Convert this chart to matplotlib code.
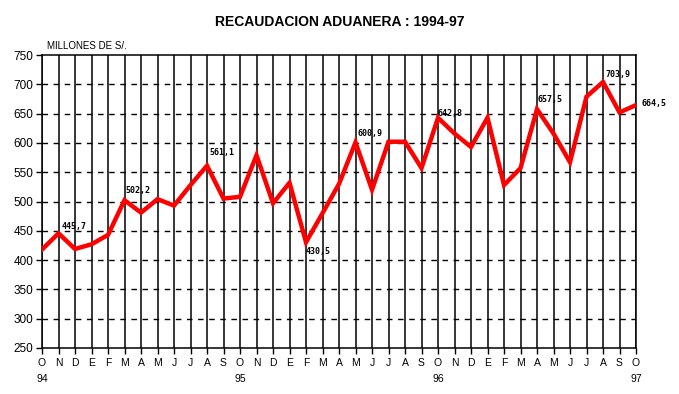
import matplotlib
matplotlib.use("Agg")
import matplotlib.pyplot as plt

# monthly customs revenue, Oct 1994 - Oct 1997 (millions of soles)
months = ["O", "N", "D", "E", "F", "M", "A", "M", "J", "J", "A", "S",
          "O", "N", "D", "E", "F", "M", "A", "M", "J", "J", "A", "S",
          "O", "N", "D", "E", "F", "M", "A", "M", "J", "J", "A", "S", "O"]
values = [418, 445.7, 419, 427, 443, 502.2, 481, 504, 493, 528, 561.1, 505,
          508, 579, 497, 532, 430.5, 480, 530, 600.9, 520, 602, 602, 557,
          642.8, 616, 593, 643, 528, 557, 657.5, 616, 567, 679, 703.9, 652, 664.5]
years = ["94", "95", "96", "97"]
year_pos = [0, 12, 24, 36]

# labelled points: index -> (dx, dy) offset in pixels
labels = {1: (3, 7), 5: (1, 10), 10: (2, 13), 16: (0, -9), 19: (2, 9),
          24: (0, 4), 30: (0, 10), 34: (2, 8), 36: (6, 2)}

fig = plt.figure(figsize=(6.79, 3.94), dpi=100)
ax = fig.add_axes([42 / 679, 46 / 394, 594 / 679, 293 / 394])

x = list(range(len(values)))
ax.set_xlim(0, 36)
ax.set_ylim(250, 750)
ax.set_yticks(range(250, 751, 50))

# grid: solid verticals, dashed horizontals
for xi in x:
    ax.axvline(xi, color="black", lw=1.1, zorder=1)
for yv in range(300, 750, 50):
    ax.axhline(yv, color="black", lw=1.0, ls=(0, (4, 4)), zorder=1)

ax.plot(x, values, color="#ff0000", lw=3.2, solid_joinstyle="miter", zorder=3)

for i, (dx, dy) in labels.items():
    txt = ("%.1f" % values[i]).replace(".", ",")
    ax.annotate(txt, (x[i], values[i]), xytext=(dx, dy), textcoords="offset pixels",
                fontsize=6, fontweight="bold", family="DejaVu Sans Mono",
                ha="left", va="center", zorder=4)

ax.set_xticks(x)
ax.set_xticklabels(months, fontsize=7.5, family="Liberation Sans")
ax.tick_params(axis="x", length=4, width=1, pad=3)
ax.tick_params(axis="y", length=4, width=1, labelsize=8.5, pad=2)
for t in ax.get_yticklabels():
    t.set_family("Liberation Sans")

for xp, yr in zip(year_pos, years):
    ax.annotate(yr, (xp, 0), xycoords=ax.get_xaxis_transform(), xytext=(0, -31),
                textcoords="offset pixels", ha="center", va="center",
                fontsize=7.5, family="Liberation Sans")

for s in ax.spines.values():
    s.set_linewidth(1.1)

fig.text(340 / 679, 1 - 22 / 394, "RECAUDACION ADUANERA : 1994-97", ha="center", va="center",
         fontsize=10, fontweight="bold", family="Liberation Sans")
fig.text(47 / 679, 1 - 46 / 394, "MILLONES DE S/.", ha="left", va="center",
         fontsize=7, family="Liberation Sans")

fig.savefig("out.png", dpi=100)
